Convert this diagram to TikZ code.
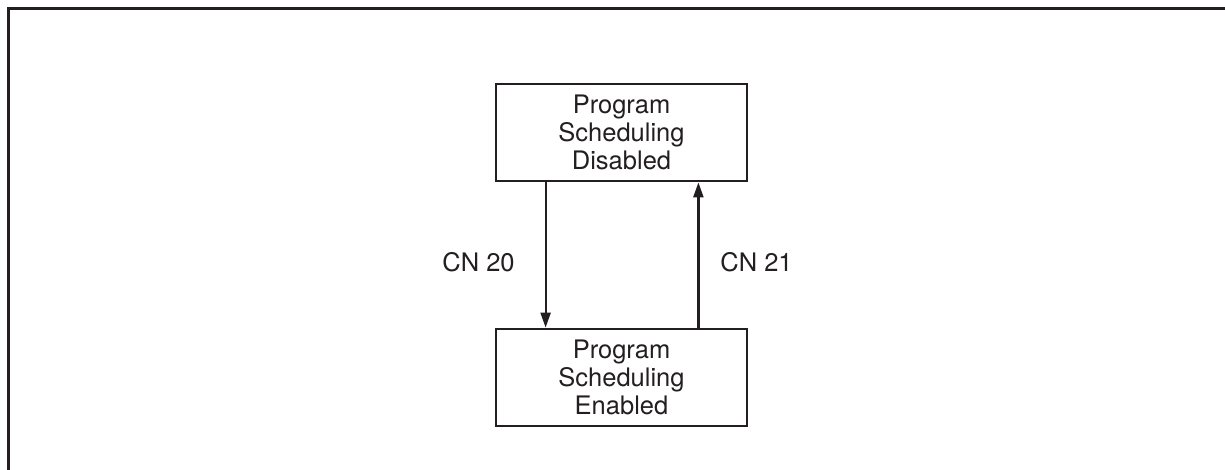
\documentclass[tikz,border=0pt]{standalone}
\usepackage{fontspec}
\setmainfont{TeX Gyre Heros}
\usetikzlibrary{arrows.meta}
\definecolor{ink}{HTML}{231F20}
\begin{document}
\begin{tikzpicture}[x=1pt,y=-1pt,
  statebox/.style={draw=ink, line width=2.8pt, minimum width=251pt, minimum height=97pt, inner sep=0pt, align=center, font=\fontsize{25.5}{27.7}\selectfont, text=ink},
  arr/.style={draw=ink, line width=2.2pt, -{Triangle[length=15pt,width=10pt]}},
  lbl/.style={font=\fontsize{25.5}{27.7}\selectfont, text=ink, inner sep=0pt}]
\useasboundingbox (0,0) rectangle (1225,470);
\coordinate (fa) at (1225,8.5);
\coordinate (fc) at (8.5,8.5);
\coordinate (fb) at (8.5,470);
\draw[ink, line width=3pt] (fa) -- (fc) -- (fb);
\node[statebox] (top) at (621.5,132.5) {Program\\Scheduling\\Disabled};
\node[statebox] (bot) at (621.5,377.5) {Program\\Scheduling\\Enabled};
\draw[arr] ([xshift=51pt]top.south west) -- ([xshift=51pt]bot.north west);
\draw[arr] ([xshift=-50pt]bot.north east) -- ([xshift=-50pt]top.south east);
\node[lbl] (cn20) at (478.5,262) {CN 20};
\node[lbl] (cn21) at (756.5,262) {CN 21};
\end{tikzpicture}
\end{document}
